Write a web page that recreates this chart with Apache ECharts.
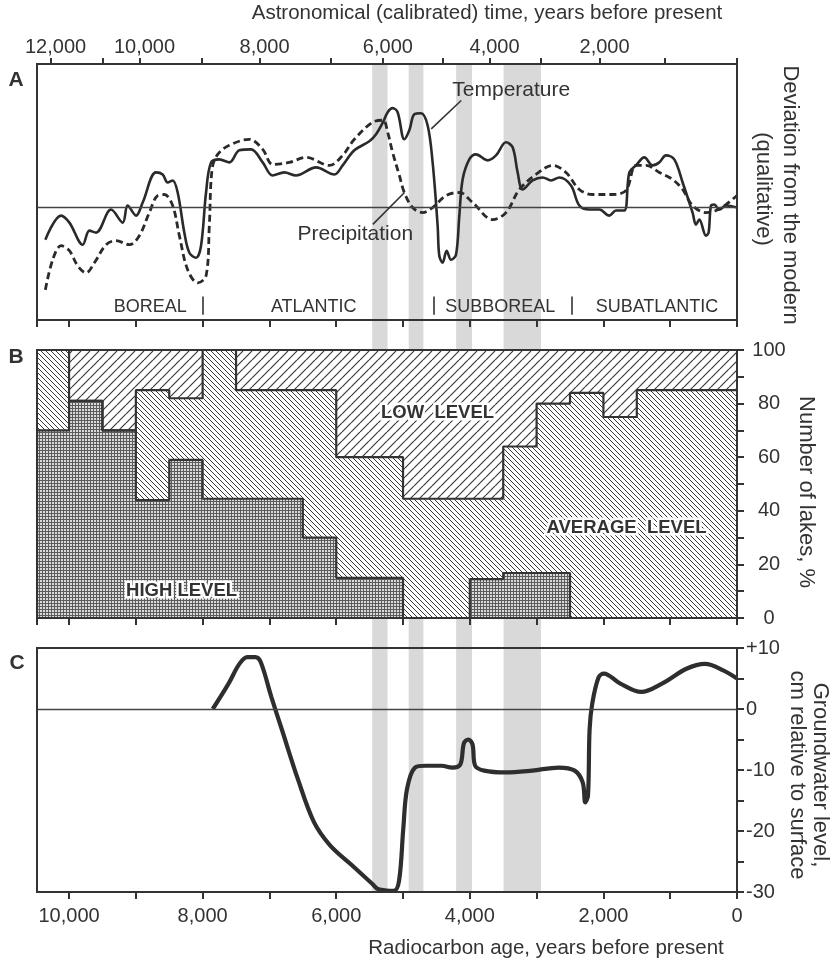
<!DOCTYPE html>
<html><head><meta charset="utf-8">
<script src="https://cdn.jsdelivr.net/npm/echarts@6/dist/echarts.min.js"></script>
<style>html,body{margin:0;padding:0;background:#fff}#chart{width:835px;height:967px}</style>
</head><body><div id="chart"></div>
<script>
// ---------------- DATA ----------------
// Panel A: qualitative deviation from modern, [radiocarbon age, value]
const temperature = [[10355,-3.2],[10120,-0.8],[9995,-1.5],[9796,-3.7],[9696,-2.3],[9596,-2.5],[9371,-0.2],[9197,-1.5],[9123,0.2],[8997,-0.8],[8898,0.5],[8698,3.5],[8599,3.3],[8524,2.5],[8449,2.7],[8374,1.5],[8274,-2.5],[8199,-4.5],[8099,-5.0],[8024,-3.8],[7949,1.5],[7874,4.5],[7750,4.8],[7600,4.5],[7451,5.7],[7275,5.8],[7101,4.5],[6952,3.2],[6777,3.5],[6602,3.2],[6302,4.0],[6028,3.3],[5904,4.2],[5729,5.7],[5504,6.6],[5404,7.3],[5300,8.5],[5230,9.5],[5156,9.9],[5081,9.5],[4981,6.8],[4906,7.7],[4831,9.3],[4731,9.4],[4632,8.2],[4557,4.5],[4482,-1.8],[4457,-4.8],[4407,-5.5],[4347,-4.3],[4281,-5.2],[4207,-4.7],[4157,-0.8],[4108,2.8],[4008,4.8],[3907,5.3],[3734,4.7],[3608,5.2],[3458,6.5],[3359,6.0],[3284,3.5],[3210,1.8],[3060,2.7],[2910,3.0],[2784,2.7],[2660,3.0],[2485,2.2],[2361,0.2],[2211,-0.2],[2061,-0.2],[1912,-0.8],[1811,-0.3],[1687,-0.3],[1612,3.5],[1512,4.2],[1388,5.0],[1263,4.2],[1163,4.5],[1063,5.2],[939,4.8],[814,2.5],[665,-0.5],[614,-1.7],[564,-1.2],[464,-2.8],[425,-2.5],[389,0.2],[340,0.3],[265,-0.2],[165,0.2],[0,0]];
const precipitation = [[10355,-8.2],[10245,-5.2],[10120,-3.8],[9995,-4.3],[9871,-5.8],[9746,-6.5],[9621,-5.5],[9446,-3.7],[9296,-3.3],[9097,-3.7],[8948,-2.8],[8798,-0.5],[8674,1.2],[8573,1.3],[8449,0.2],[8349,-2.8],[8224,-6.2],[8075,-7.5],[7949,-6.8],[7900,-1.8],[7859,3.8],[7775,5.3],[7600,6.2],[7301,6.8],[7101,5.8],[6952,4.3],[6702,4.5],[6452,5.0],[6103,4.2],[5904,5.2],[5729,6.8],[5455,8.5],[5300,8.7],[5230,7.5],[5156,5.5],[5055,3.2],[4981,1.5],[4856,0],[4707,-0.5],[4557,0],[4356,1.2],[4157,1.5],[3958,0.5],[3659,-1.2],[3458,-0.5],[3259,1.8],[3009,3.3],[2760,4.2],[2560,3.5],[2361,1.8],[2162,1.3],[1862,1.3],[1662,1.7],[1512,4.2],[1362,4.2],[1163,3.5],[964,2.8],[814,1.8],[665,0.2],[464,-0.5],[314,-0.3],[165,0.3],[0,1.2]];
const periodNames = ['BOREAL', 'ATLANTIC', 'SUBBOREAL', 'SUBATLANTIC'];
const periodCenters = [8783, 6337, 3543, 1198];
const periodBounds = [8000, 4543, 2478];

// Panel B: lake levels, % of lakes, per radiocarbon interval
const lakeEdges = [10480, 10000, 9500, 9000, 8500, 8000, 7500, 6500, 6000, 5000, 4000, 3500, 3000, 2500, 2000, 1500, 0];
const highLevelPct = [70, 81, 70, 44, 59, 44.5, 44.5, 30, 15, 0, 14.5, 16.8, 16.8, 0, 0, 0];
const averageTopPct = [100, 81, 70, 85, 82, 100, 85, 85, 60, 44.5, 44.5, 64, 80, 84, 75, 85];

// Panel C: groundwater level, cm relative to surface
const groundwater = [[7849,0],[7610,4.2],[7450,7.4],[7331,8.5],[7211,8.5],[7131,7.7],[6972,2.0],[6813,-3.4],[6574,-11.5],[6335,-18.5],[6096,-22.3],[5777,-25.5],[5458,-28.7],[5378,-29.5],[5139,-29.8],[5060,-28.2],[4996,-19.6],[4940,-13.1],[4821,-9.6],[4661,-9.3],[4422,-9.3],[4263,-9.6],[4143,-9.1],[4088,-5.6],[4024,-5.0],[3960,-5.8],[3920,-9.3],[3785,-10.1],[3466,-10.4],[3068,-10.1],[2669,-9.6],[2430,-10.1],[2311,-12.0],[2271,-15.3],[2231,-14.2],[2207,-3.4],[2167,0.9],[2072,5.2],[1992,5.8],[1753,4.2],[1434,2.8],[1116,4.2],[757,6.6],[478,7.4],[199,6.3],[0,5.0]];

// Grey event bands (radiocarbon years)
const bandStart = [5462, 4915, 4205, 3495];
const bandEnd = [5232, 4695, 3967, 2935];

// Calibrated (astronomical) scale: tick values and their radiocarbon positions
const calYears = [12000, 11000, 10000, 9000, 8000, 7000, 6000, 5000, 4000, 3000, 2000, 1000, 0];
const calAsC14 = [10277, 9494, 8945, 8012, 7148, 6075, 5302, 4404, 3705, 2931, 2058, 1075, 0];
const calLabeled = [12000, 10000, 8000, 6000, 4000, 2000];

// ---------------- HELPERS ----------------
const F = '"Liberation Sans", Arial, sans-serif';
const INK = '#333';
const XMAX = 10480;

function hatch(size, dir, color, lw) {
  const c = document.createElement('canvas');
  c.width = size; c.height = size;
  const ctx = c.getContext('2d');
  ctx.fillStyle = '#fff'; ctx.fillRect(0, 0, size, size);
  ctx.strokeStyle = color; ctx.lineWidth = lw;
  ctx.beginPath();
  for (let k = -1; k <= 1; k++) {
    if (dir === '/') { ctx.moveTo(k * size, size); ctx.lineTo(k * size + size, 0); }
    else { ctx.moveTo(k * size, 0); ctx.lineTo(k * size + size, size); }
  }
  ctx.stroke();
  return c;
}
function grid3() {
  const c = document.createElement('canvas');
  c.width = 3; c.height = 3;
  const ctx = c.getContext('2d');
  ctx.fillStyle = '#dadada'; ctx.fillRect(0, 0, 3, 3);
  ctx.fillStyle = '#5c5c5c'; ctx.fillRect(0, 0, 3, 1); ctx.fillRect(0, 0, 1, 3);
  return c;
}
const patLow = { image: hatch(9, '/', '#3a3a3a', 1.2), repeat: 'repeat' };
const patAvg = { image: hatch(5, '\\', '#3a3a3a', 1.0), repeat: 'repeat' };
const patHigh = { image: grid3(), repeat: 'repeat' };

function stepData(edges, vals) {
  const d = vals.map((v, i) => [edges[i], v]);
  d.push([edges[edges.length - 1], vals[vals.length - 1]]);
  return d;
}
function frameX(gridIndex, position, withTicks) {
  return {
    type: 'value', gridIndex, position, min: 0, max: XMAX, inverse: true, interval: 1000, z: 10,
    axisLine: { show: true, onZero: false, lineStyle: { color: INK, width: 2, cap: 'square' } },
    axisTick: { show: !!withTicks, length: 7, lineStyle: { color: INK, width: 2 } },
    axisLabel: { show: false }, splitLine: { show: false }
  };
}
function frameY(gridIndex, position, min, max) {
  return {
    type: 'value', gridIndex, position, min, max, z: 10,
    axisLine: { show: true, onZero: false, lineStyle: { color: INK, width: 2, cap: 'square' } },
    axisTick: { show: false }, axisLabel: { show: false }, splitLine: { show: false }
  };
}
function textSeries(xi, yi, points, labels, font, halo) {
  return {
    type: 'custom', xAxisIndex: xi, yAxisIndex: yi, data: points, z: 6, silent: true,
    renderItem: (params, api) => {
      const p = api.coord([api.value(0), api.value(1)]);
      const base = { text: labels[params.dataIndex], font, align: 'center', verticalAlign: 'middle' };
      const children = [];
      if (halo) children.push({ type: 'text', x: p[0], y: p[1], style: Object.assign({}, base, { fill: '#fff', stroke: '#fff', lineWidth: 5 }) });
      children.push({ type: 'text', x: p[0], y: p[1], style: Object.assign({}, base, { fill: INK }) });
      return { type: 'group', children };
    }
  };
}

// ---------------- AXES ----------------
const xA = frameX(0, 'bottom', true);
const xAtop = frameX(0, 'top', false);
xAtop.axisTick = { show: true, length: 6, customValues: calAsC14, lineStyle: { color: INK, width: 2 } };
xAtop.axisLabel = {
  show: true, margin: 7, fontSize: 20, fontFamily: F, color: INK, padding: [0, 0, 0, 10],
  customValues: calLabeled.map(y => calAsC14[calYears.indexOf(y)]),
  formatter: v => { const i = calAsC14.indexOf(v); return i >= 0 ? calYears[i].toLocaleString('en-US') : ''; }
};
const xB = frameX(1, 'bottom', true);
const xBtop = frameX(1, 'top', false);
const xC = frameX(2, 'bottom', true);
xC.axisLabel = {
  show: true, margin: 14, fontSize: 20, fontFamily: F, color: INK, showMaxLabel: false,
  formatter: v => (v % 2000 === 0 && v <= 10000) ? v.toLocaleString('en-US') : ''
};
const xCtop = frameX(2, 'top', false);
const xBand = { type: 'value', gridIndex: 3, min: 0, max: XMAX, inverse: true, show: false };

const yA = frameY(0, 'right', -11.2, 14.3);
const yAleft = frameY(0, 'left', -11.2, 14.3);
const yB = frameY(1, 'right', 0, 100);
yB.interval = 20;
yB.axisTick = { show: true, length: 7, lineStyle: { color: INK, width: 2 } };
yB.minorTick = { show: true, splitNumber: 2, length: 7, lineStyle: { color: INK, width: 2 } };
yB.axisLabel = { show: true, margin: 32, align: 'center', fontSize: 20, fontFamily: F, color: INK };
const yBleft = frameY(1, 'left', 0, 100);
const yC = frameY(2, 'right', -30, 10);
yC.interval = 10;
yC.axisTick = { show: true, length: 7, lineStyle: { color: INK, width: 2 } };
yC.minorTick = { show: true, splitNumber: 2, length: 7, lineStyle: { color: INK, width: 2 } };
yC.axisLabel = { show: true, margin: 9, align: 'left', fontSize: 20, fontFamily: F, color: INK, formatter: v => v > 0 ? '+' + v : String(v) };
const yCleft = frameY(2, 'left', -30, 10);
const yBand = { type: 'value', gridIndex: 3, min: 0, max: 1, show: false };

// ---------------- SERIES ----------------
const lowTop = lakeEdges.slice(0, -1).map(() => 100);
const series = [
  { // grey bands across panels
    type: 'custom', xAxisIndex: 6, yAxisIndex: 6, z: 0, silent: true,
    data: bandStart.map((s, i) => [s, bandEnd[i]]),
    encode: { x: [0, 1] },
    renderItem: (params, api) => {
      const p1 = api.coord([api.value(0), 1]);
      const p2 = api.coord([api.value(1), 0]);
      return { type: 'rect', shape: { x: Math.min(p1[0], p2[0]), y: p1[1], width: Math.abs(p2[0] - p1[0]), height: p2[1] - p1[1] }, style: { fill: '#d9d9da' } };
    }
  },
  {
    type: 'line', name: 'Temperature', xAxisIndex: 0, yAxisIndex: 0, data: temperature,
    smooth: 0.35, symbol: 'none', lineStyle: { color: '#2a2a2a', width: 2.6 }, z: 4,
    markLine: {
      silent: true, symbol: ['none', 'none'], label: { show: false },
      lineStyle: { color: INK, type: 'solid', width: 1.6 },
      data: [
        { yAxis: 0, lineStyle: { width: 1.3, color: '#444' } },
        ...periodBounds.map(b => [{ coord: [b, -8.87] }, { coord: [b, -10.67] }]),
        [{ coord: [4578, 7.83] }, { coord: [4129, 10.66] }],
        [{ coord: [5452, -1.67] }, { coord: [4978, 1.5] }]
      ]
    }
  },
  {
    type: 'line', name: 'Precipitation', xAxisIndex: 0, yAxisIndex: 0, data: precipitation,
    smooth: 0.35, symbol: 'none', lineStyle: { color: '#2a2a2a', width: 2.8, type: [7, 4] }, z: 3
  },
  textSeries(0, 0, periodCenters.map(c => [c, -9.9]), periodNames, '18px ' + F, false),
  textSeries(0, 0, [[3380, 11.66], [5714, -2.67]], ['Temperature', 'Precipitation'], '21px ' + F, false),
  {
    type: 'line', name: 'Low level', xAxisIndex: 2, yAxisIndex: 2, step: 'end', symbol: 'none',
    data: stepData(lakeEdges, lowTop), lineStyle: { color: INK, width: 2 },
    areaStyle: { color: patLow, opacity: 1, origin: 'start' }, z: 2
  },
  {
    type: 'line', name: 'Average level', xAxisIndex: 2, yAxisIndex: 2, step: 'end', symbol: 'none',
    data: stepData(lakeEdges, averageTopPct), lineStyle: { color: INK, width: 2.2 },
    areaStyle: { color: patAvg, opacity: 1, origin: 'start' }, z: 2
  },
  {
    type: 'line', name: 'High level', xAxisIndex: 2, yAxisIndex: 2, step: 'end', symbol: 'none',
    data: stepData(lakeEdges, highLevelPct), lineStyle: { color: INK, width: 2.2 },
    areaStyle: { color: patHigh, opacity: 1, origin: 'start' }, z: 2
  },
  textSeries(2, 2, [[4483, 76.5], [1654, 33.7], [8316, 10.2]], ['LOW  LEVEL', 'AVERAGE  LEVEL', 'HIGH LEVEL'], 'bold 18.5px ' + F, true),
  {
    type: 'line', name: 'Groundwater', xAxisIndex: 4, yAxisIndex: 4, data: groundwater,
    smooth: 0.35, symbol: 'none', lineStyle: { color: '#2e2e2e', width: 4.2 }, z: 4,
    markLine: {
      silent: true, symbol: ['none', 'none'], label: { show: false },
      lineStyle: { color: '#444', type: 'solid', width: 1.3 },
      data: [{ yAxis: 0 }]
    }
  }
];

// ---------------- GRAPHIC TEXT ----------------
function gtext(x, y, text, font, rot) {
  return { type: 'text', x, y, rotation: rot || 0, silent: true, z: 20,
    style: { text, font, fill: INK, align: 'center', verticalAlign: 'middle' } };
}
const graphic = [
  gtext(487, 13, 'Astronomical (calibrated) time, years before present', '20.5px ' + F),
  gtext(546, 948, 'Radiocarbon age, years before present', '20.5px ' + F),
  gtext(16, 80, 'A', 'bold 21px ' + F),
  gtext(16, 357, 'B', 'bold 21px ' + F),
  gtext(17, 663, 'C', 'bold 21px ' + F),
  gtext(790, 195, 'Deviation from the modern', '22px ' + F, -Math.PI / 2),
  gtext(763, 189, '(qualitative)', '22px ' + F, -Math.PI / 2),
  gtext(806, 492, 'Number of lakes, %', '22px ' + F, -Math.PI / 2),
  gtext(820, 775, 'Groundwater level,', '22px ' + F, -Math.PI / 2),
  gtext(797, 775, 'cm relative to surface', '22px ' + F, -Math.PI / 2)
];

const chart = echarts.init(document.getElementById('chart'), null, { renderer: 'canvas' });
chart.setOption({
  animation: false,
  backgroundColor: '#fff',
  textStyle: { fontFamily: F },
  grid: [
    { left: 37, width: 700, top: 64, height: 256 },
    { left: 37, width: 700, top: 350, height: 268 },
    { left: 37, width: 700, top: 648, height: 244 },
    { left: 37, width: 700, top: 64, height: 828 }
  ],
  xAxis: [xA, xAtop, xB, xBtop, xC, xCtop, xBand],
  yAxis: [yA, yAleft, yB, yBleft, yC, yCleft, yBand],
  series,
  graphic
});
</script></body></html>
